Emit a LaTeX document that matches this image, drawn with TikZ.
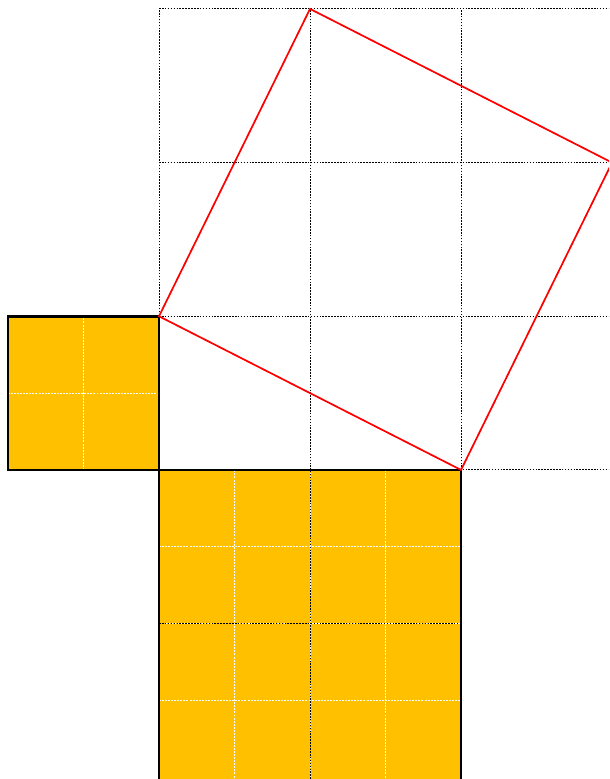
\documentclass[tikz,border=0pt]{standalone}
\usetikzlibrary{calc}
\definecolor{sqyellow}{RGB}{255,192,0}
\tikzset{
  gridline/.style={black, line width=0.7pt, dash pattern=on 1.2pt off 1pt},
  halfline/.style={white, line width=0.7pt, dash pattern=on 1.5pt off 0.8pt},
  sqborder/.style={black, line width=1.9pt},
  hyp/.style={red, line width=1.3pt, line join=miter},
}
\begin{document}
\begin{tikzpicture}[x=4cm, y=4.0707cm]
\useasboundingbox (-1.053,-2.011) rectangle (2.980,3.058);
\clip (-1.053,-2.011) rectangle (2.980,3.058);
% yellow squares
\fill[sqyellow] (-1,0) rectangle (0,1);
\fill[sqyellow] (0,-2.2) rectangle (2,0);
% half grids in squares
\draw[halfline] (-0.5,0) -- (-0.5,1) (-1,0.5) -- (0,0.5);
\foreach \t in {0.5,1,1.5} {
  \draw[halfline] (\t,-2.2) -- (\t,0);
  \draw[halfline] (0,-\t) -- (2,-\t);
}
% dashed unit grid
\foreach \t in {0,1,2,3} {
  \draw[gridline] (\t,0) -- (\t,3);
  \draw[gridline] (0,\t) -- (3,\t);
}
\draw[gridline] (1,-2.2) -- (1,0);
\draw[gridline] (0,-1) -- (2,-1);
% square borders
\draw[sqborder] (-1,0) rectangle (0,1);
\draw[sqborder] (0,-2.2) -- (0,0) -- (2,0) -- (2,-2.2);
% square on the hypotenuse
\coordinate (A) at (0,1);
\coordinate (B) at (1,3);
\coordinate (C) at (3,2);
\coordinate (D) at (2,0);
\draw[hyp] (A) -- (B) -- (C) -- (D) -- cycle;
\end{tikzpicture}
\end{document}
